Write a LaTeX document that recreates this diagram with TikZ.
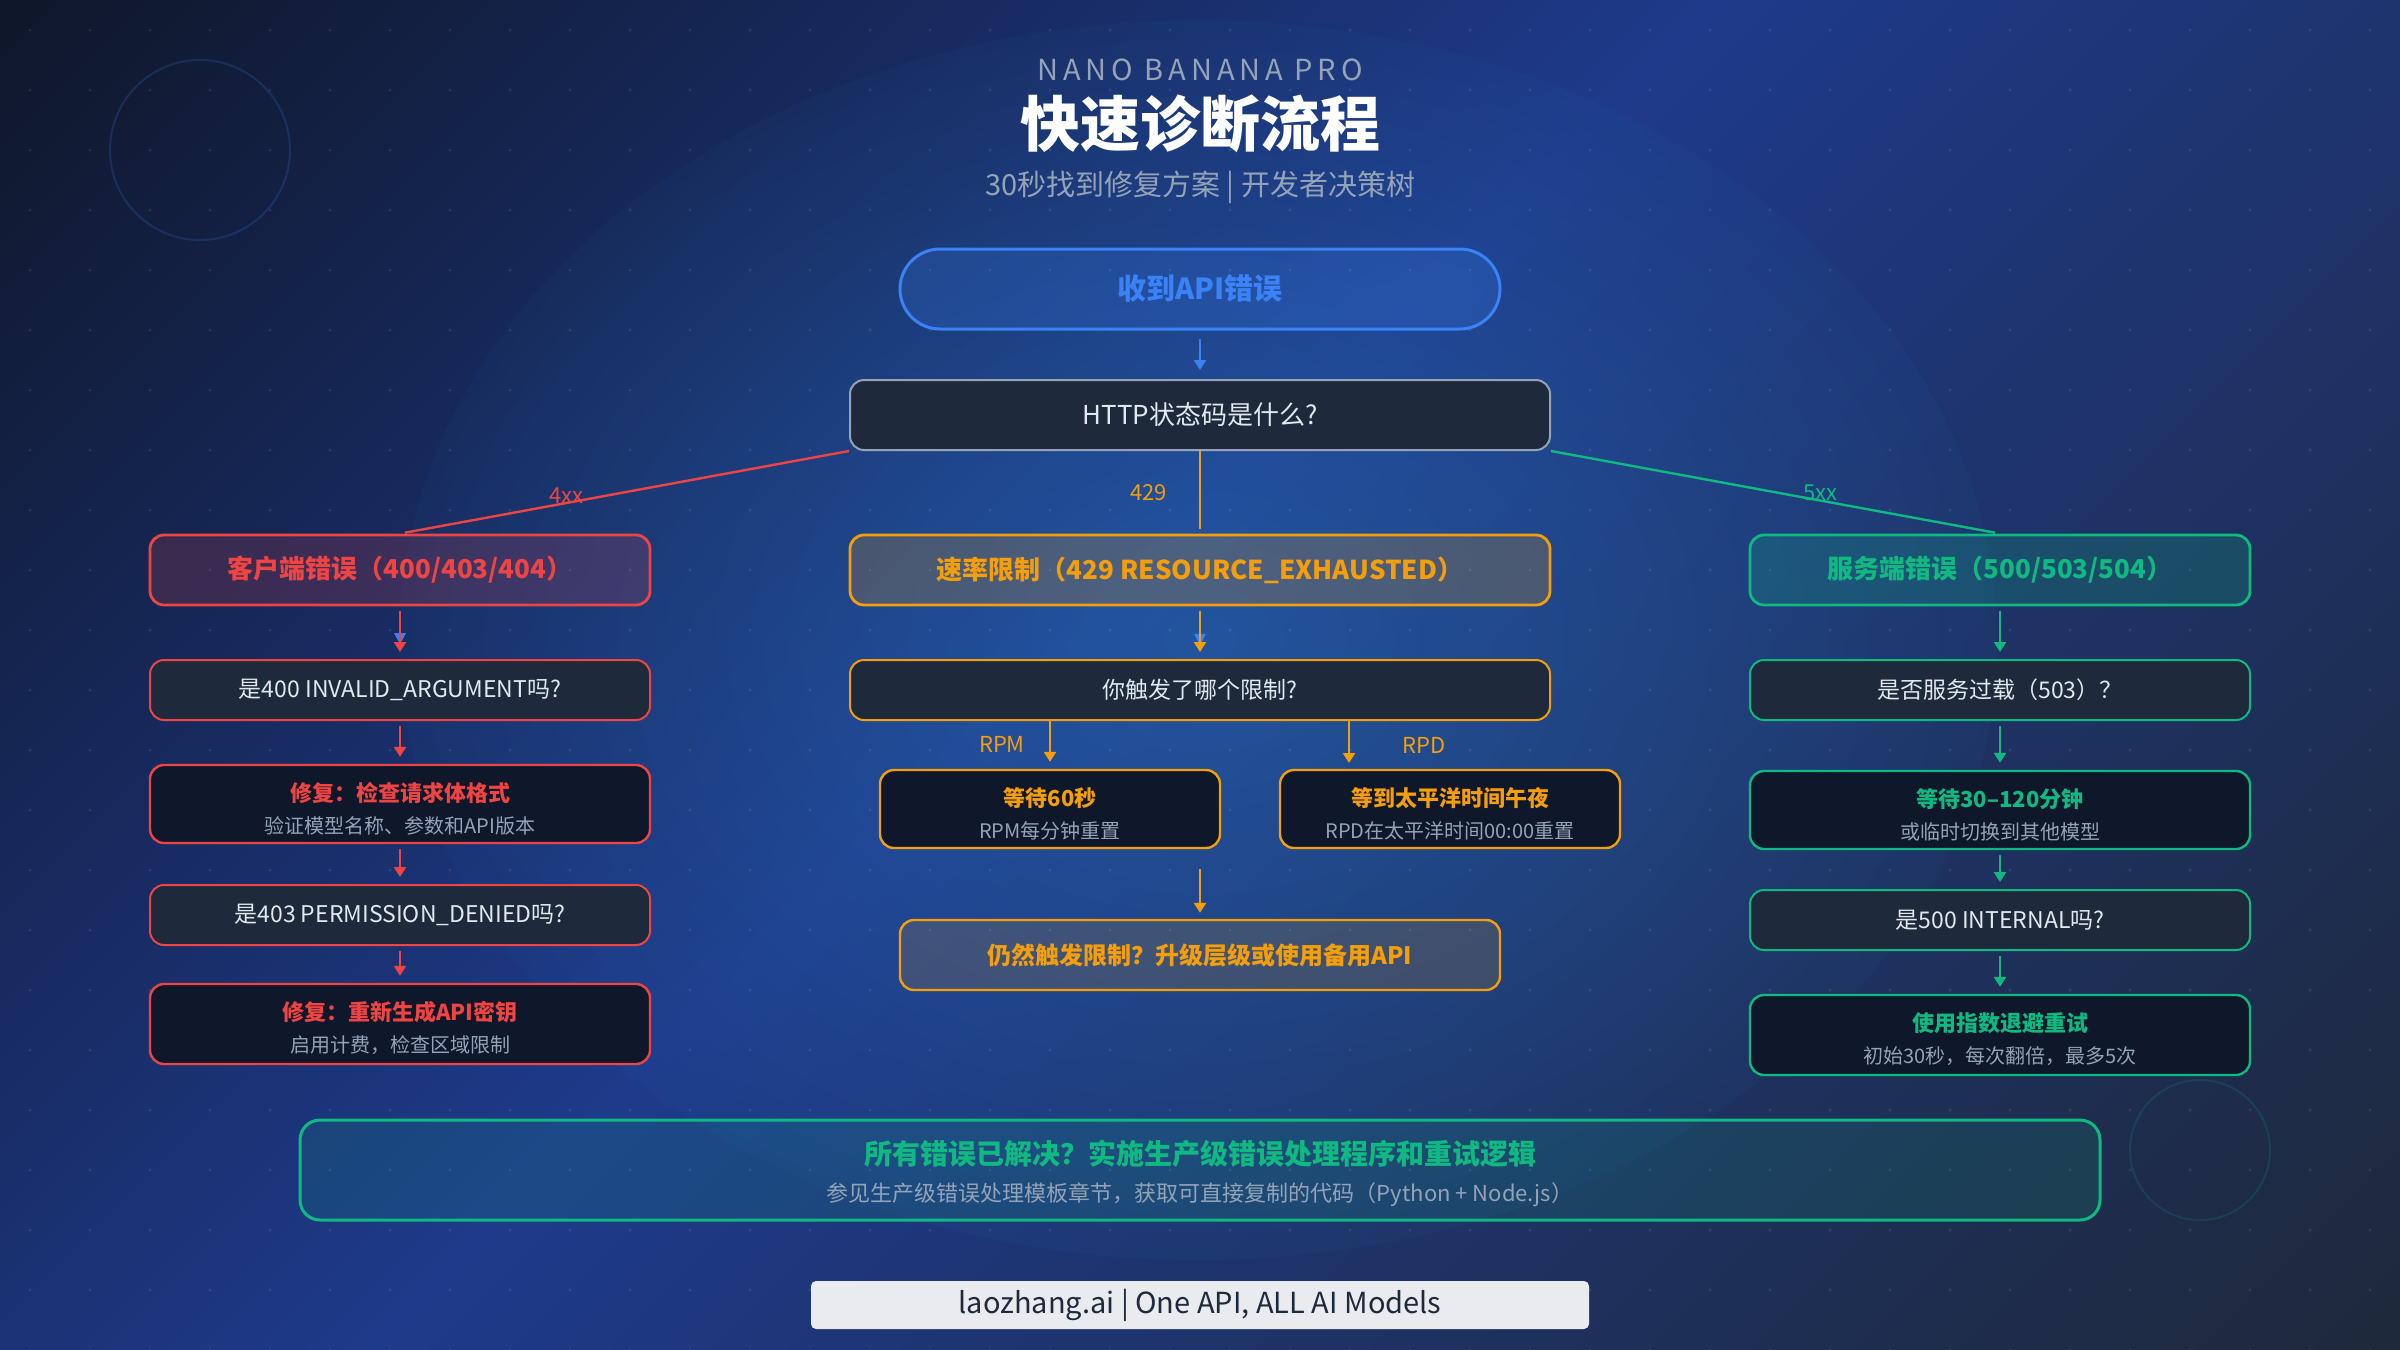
\documentclass[tikz,border=0pt]{standalone}
\usepackage{fontspec}
\setmainfont{Noto Sans CJK SC}
\usetikzlibrary{arrows.meta,fadings,calc}

\definecolor{bgA}{HTML}{0F172A}
\definecolor{bgB}{HTML}{1E3A8A}
\definecolor{bgC}{HTML}{1E293B}
\definecolor{cGlow}{HTML}{2E93D6}
\definecolor{cRed}{HTML}{EF4444}
\definecolor{cOr}{HTML}{F59E0B}
\definecolor{cGr}{HTML}{10B981}
\definecolor{cBl}{HTML}{3B82F6}
\definecolor{cSl}{HTML}{94A3B8}
\definecolor{cBox}{HTML}{1E293B}
\definecolor{cFix}{HTML}{0F172A}
\definecolor{cTxt}{HTML}{E2E8F0}
\definecolor{cFoot}{HTML}{E9EBEF}
\definecolor{cFootTxt}{HTML}{1E293B}

\pgfdeclarehorizontalshading{bgsh}{100bp}{color(0bp)=(bgA); color(15bp)=(bgA); color(47bp)=(bgB); color(85bp)=(bgC); color(100bp)=(bgC)}
\tikzfading[name=glowfade, inner color=transparent!70, outer color=transparent!96]

\newcommand{\twoline}[3]{{\fontsize{11}{16}\selectfont\bfseries\color{#1}\rule{0pt}{14pt}#2}\\{\color{cSl}#3}}

\begin{document}
\begin{tikzpicture}[x=0.5pt,y=-0.5pt,
  every node/.style={inner sep=0pt},
  box/.style={rectangle, rounded corners=7pt, align=center},
  cat/.style={box, line width=1.4pt, minimum width=250pt, minimum height=35pt, fill opacity=0.2, text opacity=1, font=\fontsize{13}{16}\selectfont\bfseries},
  qbox/.style={box, line width=1pt, fill=cBox, minimum width=250pt, minimum height=30pt, text=cTxt, font=\fontsize{11.5}{14}\selectfont},
  fixbox/.style={box, line width=1.2pt, fill=cFix, minimum width=250pt, minimum height=39pt, font=\fontsize{10}{16}\selectfont},
  arr/.style={-{Triangle[width=6pt,length=5pt]}, line width=1.2pt, shorten <=2.5pt, shorten >=3.5pt},
  lbl/.style={font=\fontsize{11}{13}\selectfont},
  branch/.style={line width=1.2pt, shorten >=2.5pt}
]
% background
\shade[shading=bgsh, shading angle=-45] (0,0) rectangle (2400,1350);
\fill[cGlow, path fading=glowfade] (1200,640) ellipse (800 and 620);
\useasboundingbox (0,0) rectangle (2400,1350);
\foreach \i in {0,...,39}{\foreach \j in {0,...,22}{\fill[white, opacity=0.1] (30+60*\i,30+60*\j) circle (0.75pt);}}
\draw[cBl, opacity=0.18, line width=1pt] (200,150) circle (45pt);
\draw[cGr, opacity=0.15, line width=1pt] (2200,1150) circle (35pt);

% titles
\node[text=cSl, font=\fontsize{14.5}{17}\selectfont\addfontfeature{LetterSpace=17}] (brand) at (1200,70) {NANO BANANA PRO};
\node[text=white, font=\fontsize{30}{36}\selectfont\bfseries] (title) at (1200,124) {快速诊断流程};
\node[text=cSl, font=\fontsize{14.5}{18}\selectfont] (subtitle) at (1200,187) {30秒找到修复方案 | 开发者决策树};

% top nodes
\node[box, rounded corners=20pt, line width=1.5pt, draw=cBl, fill=cBl, fill opacity=0.2, text opacity=1, text=cBl, minimum width=300pt, minimum height=40pt, font=\fontsize{14.5}{18}\selectfont\bfseries] (start) at (1200,289) {收到API错误};
\node[box, line width=1pt, draw=cSl, fill=cBox, text=cTxt, minimum width=350pt, minimum height=35pt, font=\fontsize{13}{16}\selectfont] (http) at (1200,415) {HTTP状态码是什么?};

% category nodes
\node[cat, draw=cRed, fill=cRed, text=cRed, fill opacity=0.17] (c4) at (400,570) {客户端错误（400/403/404）};
\node[cat, draw=cOr, fill=cOr, text=cOr, minimum width=350pt] (c429) at (1200,570) {速率限制（429 RESOURCE\_EXHAUSTED）};
\node[cat, draw=cGr, fill=cGr, text=cGr] (c5) at (2000,570) {服务端错误（500/503/504）};

% left column
\node[qbox, draw=cRed] (q400) at (400,690) {是400 INVALID\_ARGUMENT吗?};
\node[fixbox, draw=cRed] (fix1) at (400,804) {\twoline{cRed}{修复：检查请求体格式}{验证模型名称、参数和API版本}};
\node[qbox, draw=cRed] (q403) at (400,915) {是403 PERMISSION\_DENIED吗?};
\node[fixbox, draw=cRed, minimum height=40pt] (fix2) at (400,1024) {\twoline{cRed}{修复：重新生成API密钥}{启用计费，检查区域限制}};

% middle column
\node[qbox, draw=cOr, minimum width=350pt] (qlim) at (1200,690) {你触发了哪个限制?};
\node[fixbox, draw=cOr, minimum width=170pt] (rpm) at (1050,809) {\twoline{cOr}{等待60秒}{RPM每分钟重置}};
\node[fixbox, draw=cOr, minimum width=170pt] (rpd) at (1450,809) {\twoline{cOr}{等到太平洋时间午夜}{RPD在太平洋时间00:00重置}};
\node[box, line width=1.2pt, draw=cOr, fill=cOr, fill opacity=0.15, text opacity=1, text=cOr, minimum width=300pt, minimum height=35pt, font=\fontsize{12}{15}\selectfont\bfseries] (still) at (1200,955) {仍然触发限制？升级层级或使用备用API};
\coordinate (mrg) at (1200,869);
\coordinate (rpdIn) at (1349,770);

% right column
\node[qbox, draw=cGr] (q503) at (2000,690) {是否服务过载（503）？};
\node[fixbox, draw=cGr] (wait) at (2000,810) {\twoline{cGr}{等待30–120分钟}{或临时切换到其他模型}};
\node[qbox, draw=cGr] (q500) at (2000,920) {是500 INTERNAL吗?};
\node[fixbox, draw=cGr, minimum height=40pt] (retry) at (2000,1035) {\twoline{cGr}{使用指数退避重试}{初始30秒，每次翻倍，最多5次}};

% final + footer
\node[box, rounded corners=10pt, line width=1.5pt, draw=cGr, fill=cGr, fill opacity=0.13, text opacity=1, minimum width=900pt, minimum height=50pt, font=\fontsize{11}{18.5}\selectfont] (final) at (1200,1170) {{\fontsize{14}{18.5}\selectfont\bfseries\color{cGr}\rule{0pt}{16pt}所有错误已解决？实施生产级错误处理程序和重试逻辑}\\{\color{cSl}参见生产级错误处理模板章节，获取可直接复制的代码（Python + Node.js）}};
\node[box, rounded corners=2.5pt, fill=cFoot, text=cFootTxt, minimum width=389pt, minimum height=24pt, font=\fontsize{14.5}{18}\selectfont] (foot) at (1200,1305) {laozhang.ai | One API, ALL AI Models};

% connectors
\draw[arr, cBl, shorten <=4pt, shorten >=4.5pt] (start) -- (http);
\draw[branch, cRed] (http.south west) -- node[lbl, pos=0.63, anchor=base, yshift=0pt, text=cRed] {4xx} (c4.north);
\draw[branch, cOr] (http.south) -- node[lbl, left=16pt, text=cOr] {429} (c429.north);
\draw[branch, cGr] (http.south east) -- node[lbl, pos=0.6, anchor=base, yshift=0pt, text=cGr] {5xx} (c5.north);

\fill[cBl] (394,633) -- (406,633) -- (400,644) -- cycle;
\fill[cBl] (1194,634) -- (1206,634) -- (1200,645) -- cycle;

\draw[arr, cRed] (c4) -- (q400);
\draw[arr, cRed] (q400) -- (fix1);
\draw[arr, cRed] (fix1) -- (q403);
\draw[arr, cRed] (q403) -- (fix2);

\draw[arr, cOr] (c429) -- (qlim);
\draw[arr, cOr, shorten <=0pt] (rpm.north |- qlim.south) -- node[lbl, left=12pt, text=cOr] {RPM} (rpm.north);
\draw[arr, cOr, shorten <=0pt] (rpdIn |- qlim.south) -- node[lbl, right=26pt, text=cOr] {RPD} (rpdIn);
\draw[arr, cOr, shorten <=0pt, shorten >=3pt] (mrg) -- (still.north);

\draw[arr, cGr] (c5) -- (q503);
\draw[arr, cGr] (q503) -- (wait);
\draw[arr, cGr] (wait) -- (q500);
\draw[arr, cGr] (q500) -- (retry);
\end{tikzpicture}
\end{document}
